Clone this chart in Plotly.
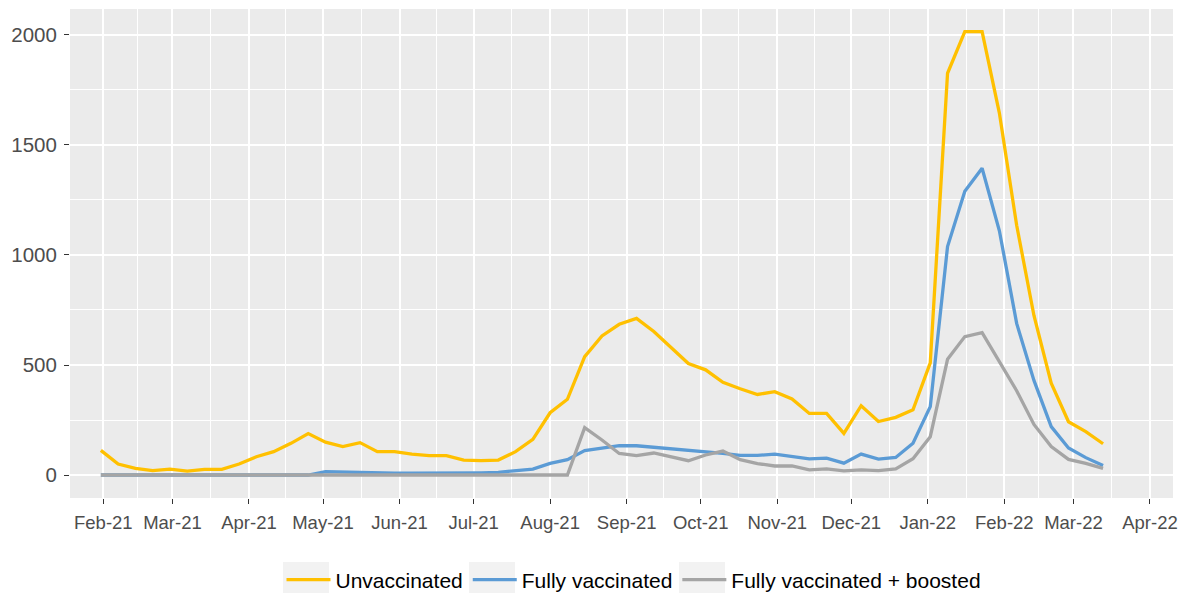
import datetime as dt
import plotly.graph_objects as go

# ---- data (weekly) ----
start_date = dt.date(2021, 1, 31)
n_weeks = 59
dates = [start_date + dt.timedelta(days=7 * i) for i in range(n_weeks)]

unvaccinated = [112, 50, 30, 20, 27, 18, 26, 26, 50, 83, 106, 144, 188, 149, 129, 147,
                106, 106, 95, 88, 88, 68, 65, 68, 106, 162, 283, 344, 538, 632, 685, 712,
                652, 578, 507, 478, 421, 392, 366, 379, 346, 280, 280, 189, 315, 243, 262,
                296, 510, 1826, 2015, 2015, 1645, 1135, 725, 417, 242, 197, 142]

fully_vaccinated = [0, 0, 0, 0, 0, 0, 0, 0, 0, 0, 0, 0, 0, 15, 13, 11,
                    8, 8, 8, 8, 8, 8, 10, 12, 20, 27, 53, 70, 111, 123, 133, 133,
                    126, 120, 114, 107, 98, 89, 89, 95, 83, 73, 77, 54, 95, 72, 80,
                    144, 311, 1038, 1290, 1394, 1110, 689, 430, 220, 123, 79, 43]

boosted = [0, 0, 0, 0, 0, 0, 0, 0, 0, 0, 0, 0, 0, 0, 0, 0,
           0, 0, 0, 0, 0, 0, 0, 0, 0, 0, 0, 0, 215, 159, 98, 88,
           100, 84, 65, 91, 109, 70, 52, 41, 41, 23, 28, 19, 23, 20, 28,
           74, 174, 526, 629, 647, 512, 383, 230, 129, 71, 53, 30]

series_names = ["Unvaccinated", "Fully vaccinated", "Fully vaccinated + boosted"]
series_colors = ["#FFC000", "#5B9BD5", "#A5A5A5"]

# month ticks
tick_dates = [dt.date(2021, m, 1) for m in range(2, 13)] + [dt.date(2022, m, 1) for m in range(1, 5)]
tick_labels = ["Feb-21", "Mar-21", "Apr-21", "May-21", "Jun-21", "Jul-21", "Aug-21",
               "Sep-21", "Oct-21", "Nov-21", "Dec-21", "Jan-22", "Feb-22", "Mar-22", "Apr-22"]
y_ticks = [0, 500, 1000, 1500, 2000]


def _dt(d):
    return dt.datetime.combine(d, dt.time())


minor_dates = [_dt(a) + (_dt(b) - _dt(a)) / 2 for a, b in zip(tick_dates[:-1], tick_dates[1:])]

fig = go.Figure()
for name, vals, col in zip(series_names, [unvaccinated, fully_vaccinated, boosted], series_colors):
    fig.add_trace(go.Scatter(x=dates, y=vals, mode="lines", name=name,
                             line=dict(color=col, width=3.3)))

# layout geometry (pixels)
W, H = 1180, 593
ML, MR, MT, MB = 70, 7, 9, 95
PW, PH = W - ML - MR, H - MT - MB


def px_x(p):
    return (p - ML) / PW


def px_y(p):
    return (H - MB - p) / PH


# light legend-key boxes (ggplot style) behind legend symbols
key_boxes = [283, 469, 679]
shapes = [dict(type="rect", xref="paper", yref="paper",
               x0=px_x(b), x1=px_x(b + 46), y0=px_y(593), y1=px_y(562),
               fillcolor="#F2F2F2", line=dict(width=0), layer="above")
          for b in key_boxes]

fig.update_layout(
    width=W, height=H,
    margin=dict(l=ML, r=MR, t=MT, b=MB, autoexpand=False),
    paper_bgcolor="white",
    plot_bgcolor="#EBEBEB",
    font=dict(family="Liberation Sans, Arial, sans-serif", color="#4D4D4D"),
    showlegend=True,
    legend=dict(orientation="h", x=px_x(634), xanchor="center", y=px_y(580), yanchor="middle",
                font=dict(size=21, color="black"), bgcolor="rgba(0,0,0,0)",
                itemwidth=44, tracegroupgap=0),
    shapes=shapes,
)
fig.update_xaxes(
    type="date", automargin=False,
    range=[dt.datetime(2021, 1, 18, 12), dt.datetime(2022, 4, 10, 8)],
    tickmode="array", tickvals=tick_dates, ticktext=tick_labels,
    tickfont=dict(size=18.5, color="#4D4D4D"), ticklabelstandoff=3,
    ticks="outside", ticklen=5, tickcolor="#333333", tickwidth=1.1,
    showgrid=True, gridcolor="white", gridwidth=2,
    minor=dict(tickmode="array", tickvals=minor_dates, showgrid=True,
               gridcolor="white", gridwidth=1, ticks=""),
    zeroline=False, showline=False,
)
fig.update_yaxes(
    automargin=False,
    range=[-104.5, 2118],
    tickmode="array", tickvals=y_ticks,
    tickfont=dict(size=20.5, color="#4D4D4D"), ticklabelstandoff=3,
    ticks="outside", ticklen=5, tickcolor="#333333", tickwidth=1.1,
    showgrid=True, gridcolor="white", gridwidth=2,
    minor=dict(dtick=250, tick0=0, showgrid=True, gridcolor="white", gridwidth=1, ticks=""),
    zeroline=False, showline=False,
)

fig.write_html(
    "out.html",
    config={"displayModeBar": False},
    post_script="document.body.style.margin='0';document.body.style.overflow='hidden';",
)
